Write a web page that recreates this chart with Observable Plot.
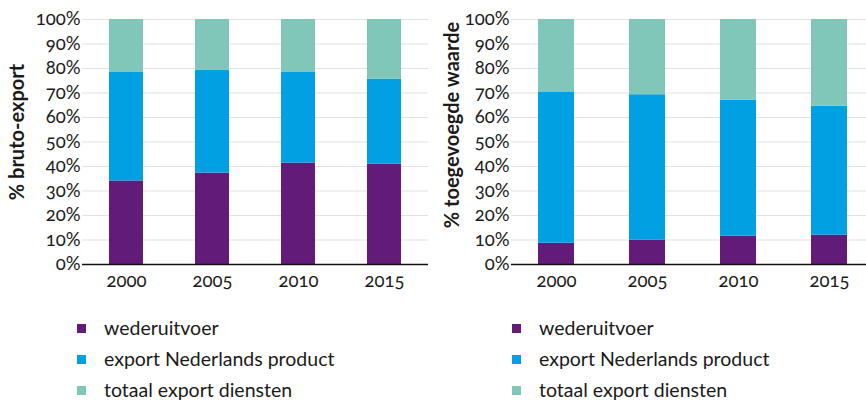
<!DOCTYPE html>
<html>
<head>
<meta charset="utf-8">
<script src="https://cdn.jsdelivr.net/npm/d3@7"></script>
<script src="https://cdn.jsdelivr.net/npm/@observablehq/plot@0.6"></script>
<style>
  html, body { margin: 0; padding: 0; background: #fff; overflow: hidden; }
  #root { position: relative; width: 866px; height: 401px; font-family: Lato, sans-serif; color: #1a1a1a; }
  .chart { position: absolute; top: 0; width: 433px; height: 290px; }
  .ylab { position: absolute; transform: translate(-50%, -50%) rotate(-90deg); white-space: nowrap; font-weight: bold; font-size: 20px; }
  .legend { position: absolute; top: 312px; }
  .item { position: relative; height: 31px; font-size: 19.5px; line-height: 31px; }
  .sw { position: absolute; left: 0; top: 12px; width: 9px; height: 9px; }
  .lt { position: absolute; left: 27px; top: 0; white-space: nowrap; }
  svg text { font-variant-numeric: oldstyle-nums; font-feature-settings: "onum" 1; }
</style>
</head>
<body>
<div id="root"></div>
<script>
const years = ["2000", "2005", "2010", "2015"];
const series = ["wederuitvoer", "export Nederlands product", "totaal export diensten"];
const colors = ["#621b78", "#00a0e2", "#81c7b9"];
const yTicks = [0, 10, 20, 30, 40, 50, 60, 70, 80, 90, 100];

// % bruto-export
const brutoWederuitvoer = [34.1, 37.3, 41.4, 40.9];
const brutoNLProduct    = [44.5, 42.1, 37.2, 34.8];
const brutoDiensten     = [21.4, 20.6, 21.4, 24.3];

// % toegevoegde waarde
const twWederuitvoer = [8.7, 9.9, 11.6, 12.0];
const twNLProduct    = [61.5, 59.4, 55.5, 52.6];
const twDiensten     = [29.8, 30.7, 32.9, 35.4];

function rows(a, b, c) {
  const out = [];
  const arrs = [a, b, c];
  series.forEach((s, i) => years.forEach((y, j) => out.push({year: y, series: s, value: arrs[i][j]})));
  return out;
}

function makeChart(data, opts) {
  return Plot.plot({
    width: 433,
    height: 290,
    marginTop: 19,
    marginBottom: 26,
    marginLeft: opts.marginLeft,
    marginRight: opts.marginRight,
    style: {fontFamily: "Lato, sans-serif", fontSize: "18.5px", color: "#1a1a1a", background: "transparent"},
    x: Object.assign({domain: years, paddingInner: opts.paddingInner, paddingOuter: 0.3, tickSize: 0, tickPadding: 9, label: null}, opts.xRange ? {range: opts.xRange} : {}),
    y: {domain: [0, 100], ticks: 10, tickFormat: d => d + "%", tickSize: 0, tickPadding: 2, label: null},
    color: {domain: series, range: colors},
    marks: [
      Plot.ruleY(yTicks.filter(d => d > 0), {stroke: "#e2e2e2", strokeWidth: 1.2}),
      Plot.barY(data, {x: "year", y: "value", fill: "series"}),
      Plot.ruleY([0], {stroke: "#111", strokeWidth: 1.5})
    ]
  });
}

const root = document.getElementById("root");

function place(el, left) {
  const d = document.createElement("div");
  d.className = "chart";
  d.style.left = left + "px";
  d.appendChild(el);
  root.appendChild(d);
}

place(makeChart(rows(brutoWederuitvoer, brutoNLProduct, brutoDiensten), {marginLeft: 82, marginRight: 5, paddingInner: 0.6}), 0);
place(makeChart(rows(twWederuitvoer, twNLProduct, twDiensten), {marginLeft: 78, marginRight: 0, paddingInner: 0.604, xRange: [77.5, 441.5]}), 433);

function ylabel(text, cx, cy) {
  const d = document.createElement("div");
  d.className = "ylab";
  d.style.left = cx + "px";
  d.style.top = cy + "px";
  d.textContent = text;
  root.appendChild(d);
}
ylabel("% bruto-export", 16, 132);
ylabel("% toegevoegde waarde", 451, 125);

function legend(left) {
  const lg = document.createElement("div");
  lg.className = "legend";
  lg.style.left = left + "px";
  series.forEach((s, i) => {
    const it = document.createElement("div");
    it.className = "item";
    const sw = document.createElement("div");
    sw.className = "sw";
    sw.style.background = colors[i];
    const t = document.createElement("div");
    t.className = "lt";
    t.textContent = s;
    it.appendChild(sw);
    it.appendChild(t);
    lg.appendChild(it);
  });
  root.appendChild(lg);
}
legend(77);
legend(512);
</script>
</body>
</html>
